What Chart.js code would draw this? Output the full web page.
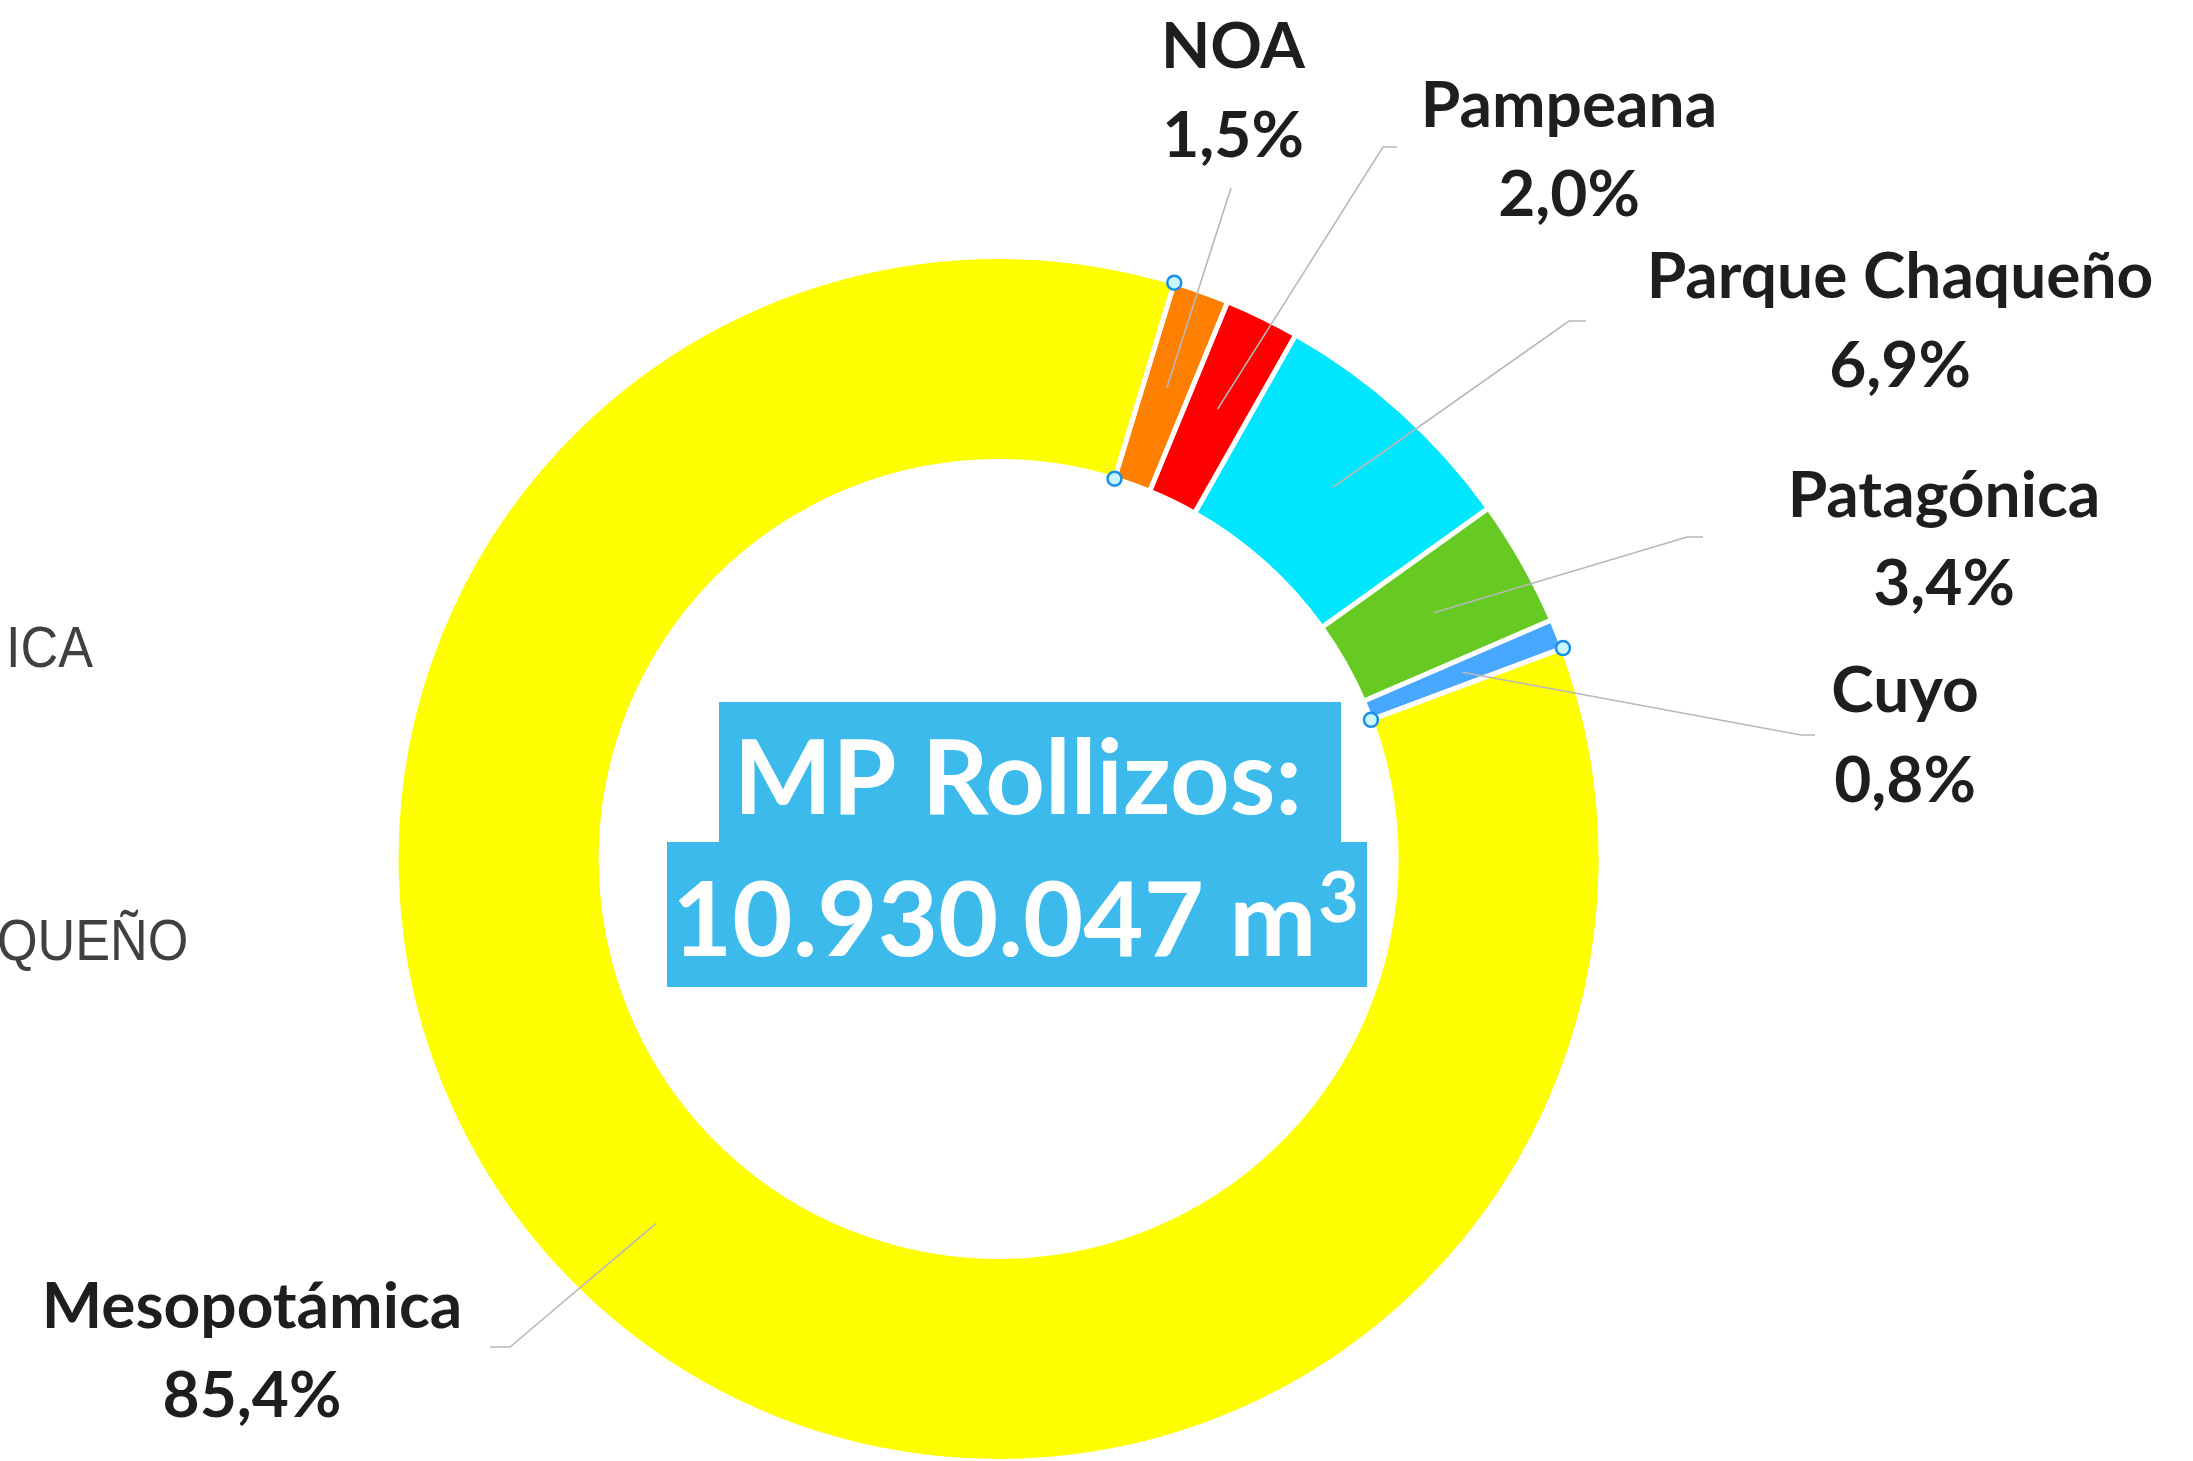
<!DOCTYPE html>
<html><head><meta charset="utf-8">
<script src="https://cdn.jsdelivr.net/npm/chart.js@4.4.1/dist/chart.umd.min.js"></script>
<style>html,body{margin:0;padding:0;background:#fff;overflow:hidden}canvas{display:block}</style>
</head><body><canvas id="c" width="2193" height="1461"></canvas>
<script>
// ---- data ----
const categories = ['NOA', 'Pampeana', 'Parque Chaqueño', 'Patagónica', 'Cuyo', 'Mesopotámica'];
const shares = [1.5, 2.0, 6.9, 3.4, 0.8, 85.4];
const sliceColors = ['#FF8000', '#FF0000', '#00E6FF', '#66CA22', '#48A8FF', '#FFFF00'];
const centerTitle = 'MP Rollizos:';
const totalVolume = 10930047;
const volumeUnit = 'm';
const volumeExponent = '3';
const fragmentTexts = ['ICA', 'QUEÑO'];

// ---- layout (positions only) ----
const labelLayout = [
  { cx: 1233, nameY: 68,   valY: 157,  leader: [[1231, 188]] },
  { cx: 1569, nameY: 127,  valY: 216,  leader: [[1383, 147], [1397, 147]] },
  { cx: 1900, nameY: 298,  valY: 387,  leader: [[1569, 321], [1586, 321]] },
  { cx: 1944, nameY: 517,  valY: 605,  leader: [[1687, 537], [1703, 537]] },
  { cx: 1905, nameY: 712,  valY: 802,  leader: [[1801, 735], [1815, 735]] },
  { cx: 252,  nameY: 1328, valY: 1417, leader: [[510, 1347], [490, 1347]] }
];
const fragmentLayout = [ { x: 6, y: 667 }, { x: -3, y: 960 } ];

function fmtPct(v) { return v.toFixed(1).replace('.', ',') + '%'; }
function fmtThousands(n) { return String(n).replace(/\B(?=(\d{3})+(?!\d))/g, '.'); }

const overlay = {
  id: 'overlay',
  afterDatasetsDraw(chart) {
    const ctx = chart.ctx;
    const arcs = chart.getDatasetMeta(0).data;
    ctx.save();
    // leader lines
    ctx.strokeStyle = '#B8B8B8';
    ctx.lineWidth = 1.6;
    arcs.forEach((arc, i) => {
      const p = arc.tooltipPosition();
      ctx.beginPath();
      ctx.moveTo(p.x, p.y);
      labelLayout[i].leader.forEach(pt => ctx.lineTo(pt[0], pt[1]));
      ctx.stroke();
    });
    // labels
    ctx.fillStyle = '#1E1E1E';
    ctx.textAlign = 'center';
    ctx.textBaseline = 'alphabetic';
    ctx.font = 'bold 64px Lato';
    categories.forEach((name, i) => {
      const L = labelLayout[i];
      ctx.fillText(name, L.cx, L.nameY);
      ctx.fillText(fmtPct(shares[i]), L.cx, L.valY);
    });
    // partially hidden fragments on the left edge
    ctx.fillStyle = '#404040';
    ctx.textAlign = 'left';
    ctx.font = '58px "Liberation Sans"';
    fragmentTexts.forEach((t, i) => {
      const F = fragmentLayout[i];
      ctx.save();
      ctx.translate(F.x, F.y);
      ctx.scale(0.9, 1);
      ctx.fillText(t, 0, 0);
      ctx.restore();
    });
    // center boxes
    ctx.fillStyle = '#3BBAEB';
    ctx.fillRect(719, 702, 622, 141);
    ctx.fillRect(667, 842, 700, 145);
    ctx.fillStyle = '#FFFFFF';
    ctx.font = 'bold 104px Lato';
    ctx.textAlign = 'center';
    ctx.fillText(centerTitle, 1018, 814);
    ctx.textAlign = 'left';
    const line2 = fmtThousands(totalVolume) + ' ' + volumeUnit;
    ctx.fillText(line2, 672, 956);
    const w2 = ctx.measureText(line2).width;
    ctx.font = 'bold 70px Lato';
    ctx.fillText(volumeExponent, 672 + w2 + 2, 922);
    // selection handles
    const handle = (x, y) => {
      ctx.beginPath();
      ctx.arc(x, y, 7, 0, Math.PI * 2);
      ctx.fillStyle = '#C8F5FF';
      ctx.fill();
      ctx.lineWidth = 2.5;
      ctx.strokeStyle = '#1A8FE8';
      ctx.stroke();
    };
    const first = arcs[0], cuyo = arcs[4];
    [[first, first.startAngle], [cuyo, cuyo.endAngle]].forEach(([a, ang]) => {
      handle(a.x + Math.cos(ang) * a.outerRadius, a.y + Math.sin(ang) * a.outerRadius);
      handle(a.x + Math.cos(ang) * a.innerRadius, a.y + Math.sin(ang) * a.innerRadius);
    });
    ctx.restore();
  }
};

new Chart(document.getElementById('c'), {
  type: 'doughnut',
  data: {
    labels: categories,
    datasets: [{
      data: shares,
      backgroundColor: sliceColors,
      borderColor: '#FFFFFF',
      borderWidth: 5,
      hoverOffset: 0
    }]
  },
  options: {
    responsive: false,
    animation: false,
    rotation: 16.95,
    radius: 602.5,
    cutout: '65.98%',
    layout: { padding: { left: 300, right: 495.8, top: 257, bottom: 0 } },
    plugins: { legend: { display: false }, tooltip: { enabled: false } },
    events: []
  },
  plugins: [overlay]
});
</script>
</body></html>
